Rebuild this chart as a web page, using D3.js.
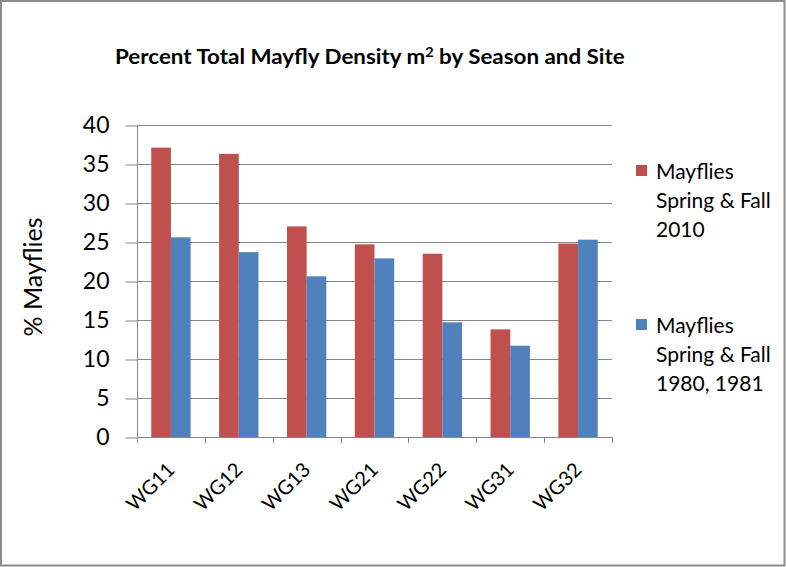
<!DOCTYPE html>
<html>
<head>
<meta charset="utf-8">
<script src="https://cdn.jsdelivr.net/npm/d3@7"></script>
<style>
  html, body { margin: 0; padding: 0; background: #fff; }
  svg { display: block; font-family: Lato, "Open Sans", sans-serif; }
</style>
</head>
<body>
<svg id="chart" width="786" height="567"></svg>
<script>
// Site categories and the two seasonal series (% of total mayfly density)
const sites = ["WG11", "WG12", "WG13", "WG21", "WG22", "WG31", "WG32"];
const series2010 = [37.1, 36.3, 27.0, 24.7, 23.5, 13.8, 24.8];
const series1980 = [25.6, 23.7, 20.6, 22.9, 14.7, 11.7, 25.3];
const seriesNames = ["Mayflies Spring & Fall 2010", "Mayflies Spring & Fall 1980, 1981"];
const legendLines = [["Mayflies", "Spring & Fall", "2010"], ["Mayflies", "Spring & Fall", "1980, 1981"]];
const yTicks = [0, 5, 10, 15, 20, 25, 30, 35, 40];
const colors = ["#C0504D", "#4F81BD"];

const svg = d3.select("#chart");
const W = 786, H = 567;
const plot = { left: 137, right: 612, top: 125, bottom: 437 };

// outer frame
svg.append("rect")
  .attr("x", 1).attr("y", 1).attr("width", W - 2.5).attr("height", H - 2.5)
  .attr("fill", "#fff").attr("stroke", "#8c8c8c").attr("stroke-width", 2);

// title
const title = svg.append("text")
  .attr("x", 115).attr("y", 64)
  .attr("font-size", 20).attr("font-weight", "bold").attr("fill", "#000");
title.append("tspan").text("Percent Total Mayfly Density m");
title.append("tspan").attr("dy", -7).attr("font-size", 13).text("2");
title.append("tspan").attr("dy", 7).text(" by Season and Site");
// stretch to the full title width
const tw = title.node().getComputedTextLength();
title.attr("transform", `translate(115,0) scale(${510 / tw},1) translate(-115,0)`);

const x = d3.scaleBand().domain(sites).range([plot.left, plot.right]);
const y = d3.scaleLinear().domain([0, 40]).range([plot.bottom, plot.top]);

// horizontal gridlines
svg.append("g").selectAll("line").data(yTicks.filter(d => d > 0)).join("line")
  .attr("x1", plot.left).attr("x2", plot.right)
  .attr("y1", d => y(d) + 0.5).attr("y2", d => y(d) + 0.5)
  .attr("stroke", "#868686").attr("stroke-width", 1);

// bars
const barW = x.bandwidth() * 0.29;
const offset = (x.bandwidth() - 2 * barW) / 2;
const groups = [series2010, series1980];
groups.forEach((vals, si) => {
  svg.append("g").selectAll("rect").data(sites).join("rect")
    .attr("x", d => x(d) + offset + si * barW)
    .attr("width", barW)
    .attr("y", (d, i) => y(vals[i]))
    .attr("height", (d, i) => plot.bottom - y(vals[i]))
    .attr("fill", colors[si]);
});

// y axis
const yAxis = d3.axisLeft(y).tickValues(yTicks).tickSize(12).tickPadding(16);
const gy = svg.append("g").attr("transform", `translate(${plot.left + 0.5},0.5)`).call(yAxis);
gy.select(".domain").attr("stroke", "#868686").attr("d", `M0,${plot.top}V${plot.bottom}`);
gy.selectAll(".tick line").attr("stroke", "#868686");
gy.selectAll(".tick text").attr("font-size", 23).attr("fill", "#000")
  .attr("font-family", "Lato, 'Open Sans', sans-serif");

// x axis baseline with category boundary ticks
const gx = svg.append("g");
gx.append("line").attr("x1", plot.left).attr("x2", plot.right)
  .attr("y1", plot.bottom + 0.5).attr("y2", plot.bottom + 0.5).attr("stroke", "#868686");
const bounds = sites.map(d => x(d)).concat([plot.right]);
gx.selectAll("line.tk").data(bounds).join("line").attr("class", "tk")
  .attr("x1", d => Math.round(d) + 0.5).attr("x2", d => Math.round(d) + 0.5)
  .attr("y1", plot.bottom).attr("y2", plot.bottom + 6).attr("stroke", "#868686");

// rotated category labels
gx.selectAll("text").data(sites).join("text")
  .attr("transform", d => `translate(${x(d) + x.bandwidth() / 2 + 5},${plot.bottom + 34}) rotate(-45)`)
  .attr("text-anchor", "end")
  .attr("font-size", 20).attr("fill", "#000")
  .text(d => d);

// y axis title
svg.append("text")
  .attr("transform", `translate(42,277) rotate(-90)`)
  .attr("text-anchor", "middle")
  .attr("font-size", 25).attr("fill", "#000")
  .text("% Mayflies");

// legend
const legend = svg.append("g");
legendLines.forEach((lines, si) => {
  const top = si === 0 ? 171 : 325;
  legend.append("rect")
    .attr("x", 636).attr("y", top - 6).attr("width", 11).attr("height", 11)
    .attr("fill", colors[si]);
  const t = legend.append("text").attr("font-size", 21).attr("fill", "#000");
  lines.forEach((ln, li) => {
    t.append("tspan").attr("x", 656).attr("y", top + 8 + li * 29).text(ln);
  });
});
</script>
</body>
</html>
